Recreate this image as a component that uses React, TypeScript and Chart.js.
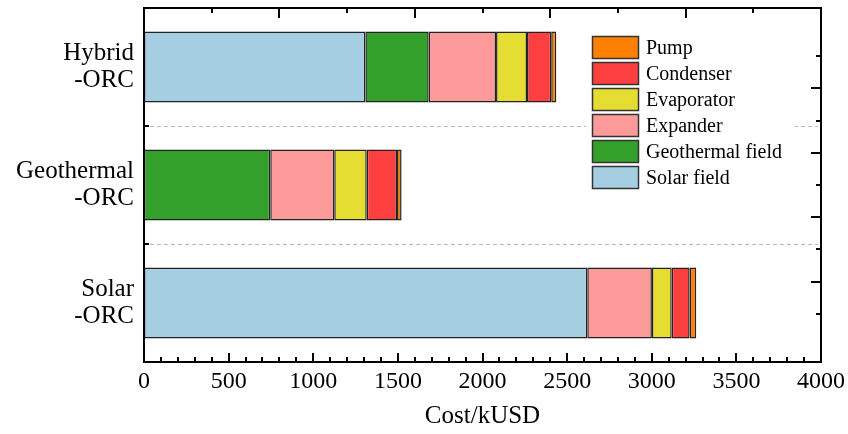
import React, { useEffect, useRef } from 'react';
import { Chart, registerables } from 'chart.js';

Chart.register(...registerables);

// ---- data ----
const categories = [['Hybrid', '-ORC'], ['Geothermal', '-ORC'], ['Solar', '-ORC']];
const seriesNames = ['Solar field', 'Geothermal field', 'Expander', 'Evaporator', 'Condenser', 'Pump'];
const solarField = [1308, null, 2619];
const geothermalField = [374, 746, null];
const expander = [398, 378, 382];
const evaporator = [183, 192, 117];
const condenser = [143, 179, 106];
const pump = [30, 27, 39];
const seriesColors = ['#a6cee3', '#33a02c', '#fb9a99', '#e6dd33', '#fd3f40', '#ff7f00'];
const xTickValues = [0, 500, 1000, 1500, 2000, 2500, 3000, 3500, 4000];
const xMinorStep = 100;
const topTickStep = 400;
const rightTickMax = 10;
const xTitle = 'Cost/kUSD';

const FONT = "'Liberation Serif', 'Times New Roman', Times, serif";

const seriesValues = [solarField, geothermalField, expander, evaporator, condenser, pump];

const decorPlugin = {
  id: 'decor',
  beforeDatasetsDraw(chart: any) {
    const { ctx, chartArea: a, scales } = chart;
    const y = scales.y;
    ctx.save();
    ctx.strokeStyle = '#b8b8b8';
    ctx.lineWidth = 1;
    ctx.setLineDash([4, 3]);
    for (let i = 0; i < categories.length - 1; i++) {
      const py = Math.round((y.getPixelForValue(i) + y.getPixelForValue(i + 1)) / 2) + 0.5;
      ctx.beginPath();
      ctx.moveTo(a.left + 6, py);
      ctx.lineTo(a.right - 3, py);
      ctx.stroke();
    }
    ctx.restore();
  },
  afterDatasetsDraw(chart: any) {
    const { ctx, chartArea: a, scales } = chart;
    const x = scales.x;
    const y = scales.y;
    const x2 = scales.x2;
    const y2 = scales.y2;
    ctx.save();
    ctx.strokeStyle = '#000';
    ctx.lineWidth = 2;
    ctx.setLineDash([]);
    ctx.strokeRect(a.left, a.top, a.right - a.left, a.bottom - a.top);
    const xmax = xTickValues[xTickValues.length - 1];
    for (let v = xTickValues[0]; v <= xmax; v += xMinorStep) {
      const px = Math.round(x.getPixelForValue(v));
      const major = xTickValues.includes(v);
      const len = major ? 9 : 5;
      ctx.beginPath();
      ctx.moveTo(px, a.bottom);
      ctx.lineTo(px, a.bottom - len);
      ctx.stroke();
    }
    for (let i = 0; i < categories.length - 1; i++) {
      const py = Math.round((y.getPixelForValue(i) + y.getPixelForValue(i + 1)) / 2);
      ctx.beginPath();
      ctx.moveTo(a.left, py);
      ctx.lineTo(a.left + 5, py);
      ctx.stroke();
    }
    for (let v = topTickStep; v < xmax; v += topTickStep) {
      const px = Math.round(x2.getPixelForValue(v));
      const major = (v / topTickStep) % 2 === 0;
      const len = major ? 10 : 5;
      ctx.beginPath();
      ctx.moveTo(px, a.top);
      ctx.lineTo(px, a.top + len);
      ctx.stroke();
    }
    for (let v = 1; v < rightTickMax; v++) {
      const py = Math.round(y2.getPixelForValue(v));
      const len = v % 2 === 0 ? 10 : 5;
      ctx.beginPath();
      ctx.moveTo(a.right, py);
      ctx.lineTo(a.right - len, py);
      ctx.stroke();
    }
    ctx.restore();
  },
  afterDraw(chart: any) {
    const { ctx, chartArea: a } = chart;
    const ds = chart.data.datasets;
    const bgLeft = a.right - 235;
    const bgTop = a.top + 23;
    const boxLeft = a.right - 229;
    const boxW = 47;
    const boxH = 23;
    const rowStep = 26;
    const firstTop = a.top + 28;
    ctx.save();
    ctx.fillStyle = '#fff';
    ctx.fillRect(bgLeft, bgTop, 209, rowStep * ds.length + 8);
    ctx.font = `20px ${FONT}`;
    ctx.textBaseline = 'middle';
    ctx.textAlign = 'left';
    const order = ds.map((_: any, i: number) => i).reverse();
    order.forEach((di: number, row: number) => {
      const top = firstTop + row * rowStep;
      ctx.fillStyle = ds[di].backgroundColor;
      ctx.fillRect(boxLeft, top, boxW, boxH);
      ctx.strokeStyle = '#333';
      ctx.lineWidth = 1.5;
      ctx.strokeRect(boxLeft + 0.5, top + 0.5, boxW - 1, boxH - 1);
      ctx.fillStyle = '#000';
      ctx.fillText(ds[di].label, boxLeft + boxW + 7, top + boxH / 2 + 1);
    });
    ctx.restore();
  },
};

export default function App() {
  const ref = useRef<HTMLCanvasElement | null>(null);
  useEffect(() => {
    if (!ref.current) return;
    const chart = new Chart(ref.current, {
      type: 'bar',
      data: {
        labels: categories as any,
        datasets: seriesNames.map((name, i) => ({
          label: name,
          data: seriesValues[i] as any,
          backgroundColor: seriesColors[i],
          borderColor: '#222',
          borderWidth: 1.5,
          borderSkipped: false,
          barPercentage: 0.6,
          categoryPercentage: 1,
        })),
      },
      options: {
        indexAxis: 'y',
        responsive: false,
        animation: false,
        layout: { padding: { top: 8, right: 27, left: 0, bottom: 0 } },
        plugins: {
          legend: { display: false },
          tooltip: { enabled: false },
        },
        scales: {
          x: {
            type: 'linear',
            position: 'bottom',
            stacked: true,
            min: xTickValues[0],
            max: xTickValues[xTickValues.length - 1],
            afterBuildTicks: (s: any) => {
              s.ticks = xTickValues.map((v) => ({ value: v }));
            },
            ticks: {
              color: '#000',
              font: { family: FONT, size: 24 },
              padding: 5,
              maxRotation: 0,
              autoSkip: false,
              callback: (v: any) => String(v),
            },
            grid: { display: false, drawTicks: false },
            border: { display: false },
            title: {
              display: true,
              text: xTitle,
              color: '#000',
              font: { family: FONT, size: 25 },
              padding: { top: 0, bottom: 3 },
            },
            afterFit: (s: any) => {
              s.height = 72;
              s.paddingLeft = 0;
              s.paddingRight = 0;
            },
          },
          y: {
            type: 'category',
            position: 'left',
            stacked: true,
            ticks: {
              color: '#000',
              font: { family: FONT, size: 25, lineHeight: 1.07 },
              padding: 10,
            },
            grid: { display: false, drawTicks: false },
            border: { display: false },
            afterFit: (s: any) => {
              s.width = 144;
              s.paddingTop = 0;
              s.paddingBottom = 0;
            },
          },
          x2: {
            type: 'linear',
            position: 'top',
            display: false,
            min: xTickValues[0],
            max: xTickValues[xTickValues.length - 1],
          },
          y2: {
            type: 'linear',
            position: 'right',
            display: false,
            min: 0,
            max: rightTickMax,
          },
        },
      } as any,
      plugins: [decorPlugin],
    });
    return () => chart.destroy();
  }, []);
  return (
    <canvas
      ref={ref}
      width={848}
      height={434}
      style={{ position: 'absolute', left: 0, top: 0, width: 848, height: 434, display: 'block' }}
    />
  );
}
